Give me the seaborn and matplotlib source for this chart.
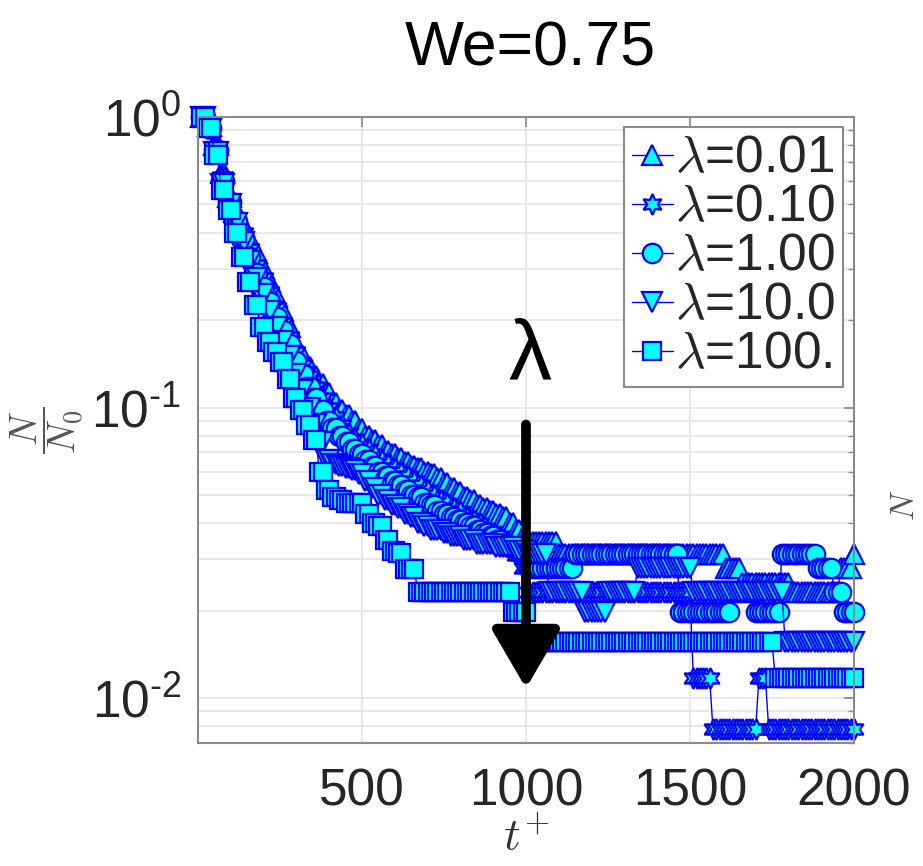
import numpy as np
import matplotlib
matplotlib.use("Agg")
import matplotlib.pyplot as plt
import seaborn as sns
from matplotlib.font_manager import FontProperties
from matplotlib.ticker import FixedLocator, FixedFormatter, LogLocator, NullFormatter

# ---------------- data ----------------
# sampling times t+ (every 10 units)
t_grid = np.arange(10, 2001, 10)

labels = [r"$\lambda$=0.01", r"$\lambda$=0.10", r"$\lambda$=1.00",
          r"$\lambda$=10.0", r"$\lambda$=100."]

# decay part: values every 20 units (each held for two samples), then plateaus (level, n samples)
l001_decay = [1.0, .93, .80, .64, .53, .47, .42, .38, .34, .30,
              .27, .24, .215, .19, .165, .15, .138, .128, .12, .112,
              .104, .098, .094, .09, .084, .08, .077, .074, .071, .069,
              .067, .065, .063, .062, .060, .059, .057, .055, .053, .051,
              .049, .048, .046, .045, .044, .043, .042, .040, .038, .036]
l001_levels = [0.0345, 0.0312, 0.0281, 0.0249, 0.0231, 0.0281, 0.0312]
l001_counts = [9, 51, 5, 15, 15, 4, 1]

l010_decay = [1.0, .92, .78, .62, .52, .45, .40, .35, .31, .28,
              .25, .22, .195, .175, .155, .14, .128, .118, .108, .10,
              .093, .087, .082, .078, .075, .072, .069, .066, .064, .062,
              .060, .058, .056, .054, .052, .050, .048, .047, .045, .044,
              .042, .041, .040, .038, .037, .036, .034, .033, .031, .028]
l010_levels = [0.0231, 0.0117, 0.0078, 0.0117, 0.0078]
l010_counts = [50, 6, 14, 3, 27]

l1_decay = [1.0, .92, .77, .60, .51, .44, .38, .33, .29, .26,
            .23, .205, .185, .165, .145, .13, .118, .108, .098, .09,
            .085, .080, .076, .072, .069, .066, .063, .060, .058, .056,
            .054, .052, .050, .049, .047, .046, .044, .043, .042, .041,
            .040, .039, .038, .037, .036, .035, .034, .033, .032, .032]
l1_levels = [0.0281, 0.0312, 0.0197, 0.0231, 0.0197, 0.0312, 0.0281, 0.0231, 0.0197]
l1_counts = [14, 32, 16, 7, 8, 11, 5, 3, 4]

l10_decay = [1.0, .91, .76, .59, .50, .43, .37, .32, .28, .245,
             .215, .19, .17, .15, .13, .115, .10, .088, .076, .066,
             .064, .063, .062, .061, .059, .056, .053, .050, .048, .046,
             .045, .043, .042, .040, .039, .038, .038, .037, .036, .036,
             .035, .035, .034, .034, .034, .033, .033, .033, .032, .032]
l10_levels = [0.0312, 0.0231, 0.0197, 0.0231, 0.0281, 0.0231, 0.0156]
l10_counts = [6, 11, 7, 9, 17, 28, 22]

l100_decay = [1.0, .92, .74, .56, .48, .40, .33, .27, .225, .19,
              .168, .155, .143, .125, .108, .098, .087, .077, .060, .052,
              .049, .048, .047, .047, .047, .043, .040, .039, .035, .032,
              .0316, .0277, .0277]
l100_levels = [0.0231, 0.0197, 0.0156, 0.0117]
l100_counts = [29, 5, 75, 25]

x_ticks = [500, 1000, 1500, 2000]
y_ticks = [0.01, 0.1, 1.0]
y_ticklabels = [r"$10^{\text{-}2}$", r"$10^{\text{-}1}$", r"$10^{0}$"]


def build(decay, levels, counts):
    return np.concatenate([np.repeat(decay, 2), np.repeat(levels, counts)])


series = [
    (build(l001_decay, l001_levels, l001_counts), "^", 14),
    (build(l010_decay, l010_levels, l010_counts), (6, 1, 0), 15),
    (build(l1_decay, l1_levels, l1_counts), "o", 14),
    (build(l10_decay, l10_levels, l10_counts), "v", 14),
    (build(l100_decay, l100_levels, l100_counts), "s", 12.5),
]

# ---------------- style ----------------
sns.set_theme(style="white")
plt.rcParams["font.family"] = ["Liberation Sans", "DejaVu Sans"]
plt.rcParams["mathtext.fontset"] = "custom"
plt.rcParams["mathtext.rm"] = "Liberation Sans"
plt.rcParams["mathtext.it"] = "Liberation Sans:italic"
plt.rcParams["mathtext.bf"] = "Liberation Sans:bold"

fig = plt.figure(figsize=(9.23, 8.66), dpi=100)
ax = fig.add_axes([198 / 923, 1 - 743 / 866, (854 - 198) / 923, (743 - 117) / 866])
ax.set_yscale("log")

for (vals, mk, ms), lab in zip(series, labels):
    sns.lineplot(x=t_grid, y=vals, ax=ax, marker=mk, markersize=ms,
                 color="#0000ff", markerfacecolor="#00ffff",
                 markeredgecolor="#0000ff", markeredgewidth=1.6,
                 linewidth=1.0, label=lab, clip_on=False,
                 sort=False, estimator=None)

ax.set_xlim(0, 2000)
ax.set_ylim(0.007, 1.0)

ax.xaxis.set_major_locator(FixedLocator(x_ticks))
ax.yaxis.set_major_locator(FixedLocator(y_ticks))
ax.yaxis.set_major_formatter(FixedFormatter(y_ticklabels))
ax.yaxis.set_minor_locator(LogLocator(base=10, subs=np.arange(2, 10), numticks=20))
ax.yaxis.set_minor_formatter(NullFormatter())

ax.grid(True, which="major", axis="x", color="#e6e6e6", lw=1.3)
ax.grid(True, which="both", axis="y", color="#e6e6e6", lw=1.3)
ax.set_axisbelow(True)

for s in ax.spines.values():
    s.set_color("#8a8a8a")
    s.set_linewidth(1.5)
ax.tick_params(which="both", direction="in", top=True, right=True,
               color="#8a8a8a", labelcolor="#262626", labelsize=37)
ax.tick_params(which="major", length=7, width=1.2, pad=18)
ax.tick_params(which="minor", length=4, width=1.0)
ax.tick_params(axis="y", which="major", pad=12)

ax.set_xlabel(r"$t^{+}$", fontsize=33, color="#333333", math_fontfamily="cm")
ax.xaxis.set_label_coords(0.5, -0.118)
ax.set_ylabel(r"$\dfrac{N}{N_0}$", fontsize=27, color="#555555",
              math_fontfamily="cm", rotation=90)
ax.yaxis.set_label_coords(-0.17, 0.5)

leg_prop = FontProperties(family="Liberation Sans", size=37, math_fontfamily="cm")
leg = ax.legend(loc="upper right", bbox_to_anchor=(843 / 923, 1 - 127 / 866),
                bbox_transform=fig.transFigure, borderaxespad=0, prop=leg_prop,
                frameon=True, fancybox=False, handlelength=0.8, handletextpad=0.05,
                labelspacing=0.0, borderpad=0.15)
leg.get_frame().set_edgecolor("#8a8a8a")
leg.get_frame().set_linewidth(1.5)
leg.get_frame().set_facecolor("white")
leg.get_frame().set_alpha(1.0)

# annotation: big lambda and arrow
ax.text(1012, 0.125, "λ", ha="center", va="baseline", fontsize=62, color="black")
ax.annotate("", xy=(1000, 0.0108), xytext=(1000, 0.0874),
            arrowprops=dict(arrowstyle="-|>,head_width=2.1,head_length=3.6",
                            lw=7, color="black", capstyle="round",
                            joinstyle="round", shrinkA=0, shrinkB=0,
                            mutation_scale=10))

# title
fig.text(530 / 923, 1 - 65 / 866, "We=0.75", ha="center", va="baseline",
         fontsize=45, color="black")

# clipped label of the neighbouring panel
fig.text(905 / 923, 1 - 505 / 866, r"$N$", rotation=90, fontsize=24,
         color="#555555", math_fontfamily="cm", ha="center", va="center")

fig.savefig("out.png", dpi=100)
